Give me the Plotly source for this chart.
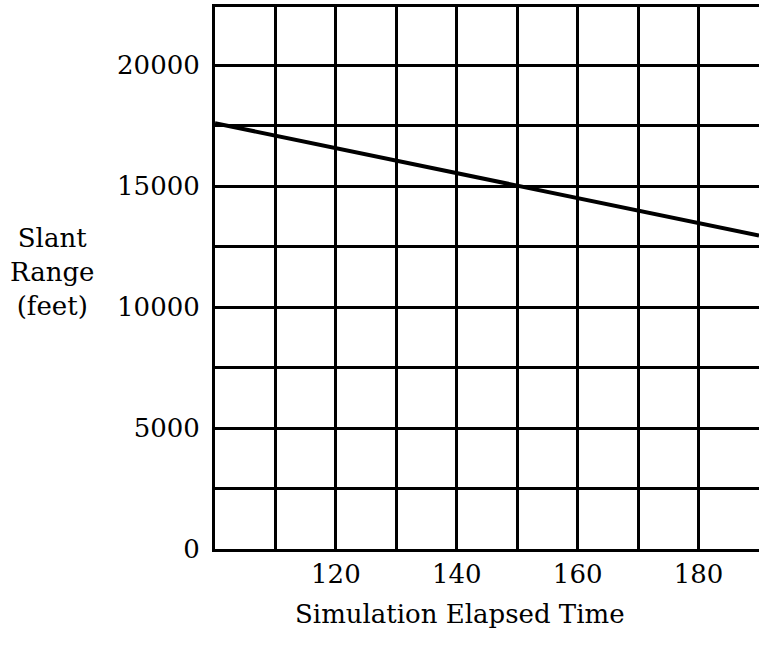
import plotly.graph_objects as go

# Slant range over simulation elapsed time
elapsed_time = [100, 190]
slant_range_ft = [17600, 12950]

# Grid and tick labels
x_grid = [110, 120, 130, 140, 150, 160, 170, 180]
x_labels = ["", "120", "", "140", "", "160", "", "180"]
y_grid = [0, 2500, 5000, 7500, 10000, 12500, 15000, 17500, 20000, 22500]
y_labels = ["0", "", "5000", "", "10000", "", "15000", "", "20000", ""]

FONT = "DejaVu Serif"
FS = 26

fig = go.Figure()
fig.add_trace(go.Scatter(
    x=elapsed_time, y=slant_range_ft, mode="lines",
    line=dict(color="black", width=4), showlegend=False,
))

fig.update_layout(
    width=759, height=663,
    margin=dict(l=215, r=0, t=7, b=114),
    paper_bgcolor="white", plot_bgcolor="white",
    font=dict(family=FONT, size=FS, color="black"),
    xaxis=dict(
        range=[100, 190], tickmode="array", tickvals=x_grid, ticktext=x_labels,
        showgrid=True, gridcolor="black", gridwidth=3,
        showline=True, linecolor="black", linewidth=3, mirror=True,
        ticks="", ticklabelstandoff=0, zeroline=False,
    ),
    yaxis=dict(
        range=[0, 22400], tickmode="array", tickvals=y_grid, ticktext=y_labels,
        showgrid=True, gridcolor="black", gridwidth=3,
        showline=True, linecolor="black", linewidth=3, mirror=False,
        ticks="", ticklabelstandoff=7, zeroline=False,
    ),
    annotations=[
        dict(text="Slant<br>Range<br>(feet)", xref="paper", yref="paper",
             x=-0.30, y=0.511, showarrow=False, align="center",
             xanchor="center", yanchor="middle",
             font=dict(family=FONT, size=FS)),
        dict(text="Simulation Elapsed Time", xref="paper", yref="paper",
             x=0.45, y=-0.12, showarrow=False,
             xanchor="center", yanchor="middle",
             font=dict(family=FONT, size=FS)),
    ],
)

fig.write_html("out.html")
